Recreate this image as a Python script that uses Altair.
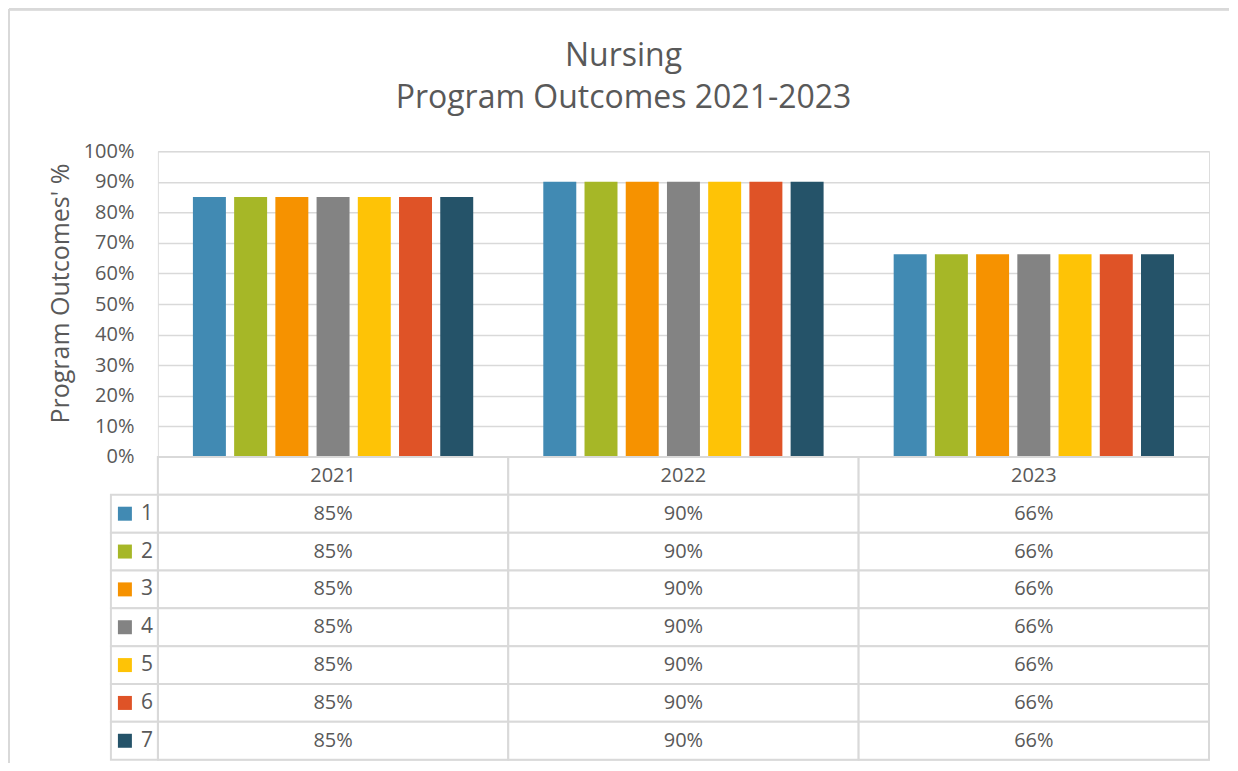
import altair as alt
import pandas as pd

years = ["2021", "2022", "2023"]
series = ["1", "2", "3", "4", "5", "6", "7"]
values_2021 = [0.85, 0.85, 0.85, 0.85, 0.85, 0.85, 0.85]
values_2022 = [0.90, 0.90, 0.90, 0.90, 0.90, 0.90, 0.90]
values_2023 = [0.663, 0.663, 0.663, 0.663, 0.663, 0.663, 0.663]
colors = ["#418AB3", "#A6B727", "#F69200", "#838383", "#FEC306", "#DF5327", "#255369"]
y_ticks = [0, 0.1, 0.2, 0.3, 0.4, 0.5, 0.6, 0.7, 0.8, 0.9, 1.0]

FONT = "Open Sans"
TXT = "#595959"
GRID = "#D9D9D9"
W = 1052
BAR_H = 306
TAB_H = 303
H = BAR_H + TAB_H

rows = ["hdr"] + series

recs = []
for yr, vals in zip(years, [values_2021, values_2022, values_2023]):
    for s, v in zip(series, vals):
        recs.append({"year": yr, "series": s, "value": v})
df = pd.DataFrame(recs)

cells = pd.DataFrame([{"year": yr, "row": r} for yr in years for r in rows])
hdr = pd.DataFrame({"year": years, "row": ["hdr"] * len(years)})
rowdf = pd.DataFrame({"series": series})

xscale = alt.Scale(domain=years, paddingInner=0, paddingOuter=0)
tab_y = alt.Scale(domain=rows, range=[BAR_H, H], paddingInner=0, paddingOuter=0)
cscale = alt.Scale(domain=series, range=colors)

bars = alt.Chart(df).mark_bar().encode(
    x=alt.X("year:N", scale=xscale, axis=None),
    xOffset=alt.XOffset("series:N", scale=alt.Scale(domain=series, paddingInner=0.2, paddingOuter=0.85)),
    y=alt.Y("value:Q", scale=alt.Scale(domain=[0, 1], range=[BAR_H, 0], nice=False, zero=True),
            axis=alt.Axis(values=y_ticks, format=".0%", title="Program Outcomes' %",
                          domain=False, ticks=False, grid=True, gridColor=GRID, gridWidth=1.5,
                          labelFont=FONT, labelFontSize=20, labelColor=TXT, labelPadding=24,
                          titleFont=FONT, titleFontSize=25, titleColor=TXT, titleFontWeight="normal",
                          titlePadding=10, titleY=142)),
    color=alt.Color("series:N", scale=cscale, legend=None),
)

cell_rects = alt.Chart(cells).mark_rect(fill="white", stroke=GRID, strokeWidth=2).encode(
    x=alt.X("year:N", scale=xscale, axis=None),
    y=alt.Y("row:N", scale=tab_y, axis=None),
)

left_rects = alt.Chart(rowdf).mark_rect(fill="white", stroke=GRID, strokeWidth=2).encode(
    x=alt.value(-47), x2=alt.value(0),
    y=alt.Y("series:N", scale=tab_y, axis=None),
)

squares = alt.Chart(rowdf).mark_square(size=196, opacity=1).encode(
    x=alt.value(-33),
    y=alt.Y("series:N", scale=tab_y, axis=None),
    color=alt.Color("series:N", scale=cscale, legend=None),
)

row_text = alt.Chart(rowdf).mark_text(align="right", font=FONT, fontSize=21, color=TXT).encode(
    x=alt.value(-5),
    y=alt.Y("series:N", scale=tab_y, axis=None),
    text="series:N",
)

hdr_text = alt.Chart(hdr).mark_text(font=FONT, fontSize=20, color=TXT).encode(
    x=alt.X("year:N", scale=xscale, axis=None),
    y=alt.Y("row:N", scale=tab_y, axis=None),
    text="year:N",
)

val_text = alt.Chart(df).mark_text(font=FONT, fontSize=20, color=TXT).encode(
    x=alt.X("year:N", scale=xscale, axis=None),
    y=alt.Y("series:N", scale=tab_y, axis=None),
    text=alt.Text("value:Q", format=".0%"),
)

frame_top = alt.Chart(rowdf).mark_rule(color=GRID, strokeWidth=2).encode(
    x=alt.value(-149), x2=alt.value(1072), y=alt.value(-142)
)
frame_left = alt.Chart(rowdf).mark_rule(color=GRID, strokeWidth=2).encode(
    x=alt.value(-149), y=alt.value(-142), y2=alt.value(612)
)

chart = alt.layer(
    frame_top, frame_left, bars, cell_rects, left_rects, squares, row_text, hdr_text, val_text
).resolve_scale(y="independent").properties(
    width=W, height=H,
    padding=0,
    title=alt.Title(["Nursing", "Program Outcomes 2021-2023"], font=FONT, fontSize=32,
                    fontWeight="normal", color=TXT, anchor="middle", offset=-107, dx=-60,
                    lineHeight=42),
).configure_view(stroke=None).configure(background="white")

chart.save("out.html", embed_options={"renderer": "svg", "actions": False})
